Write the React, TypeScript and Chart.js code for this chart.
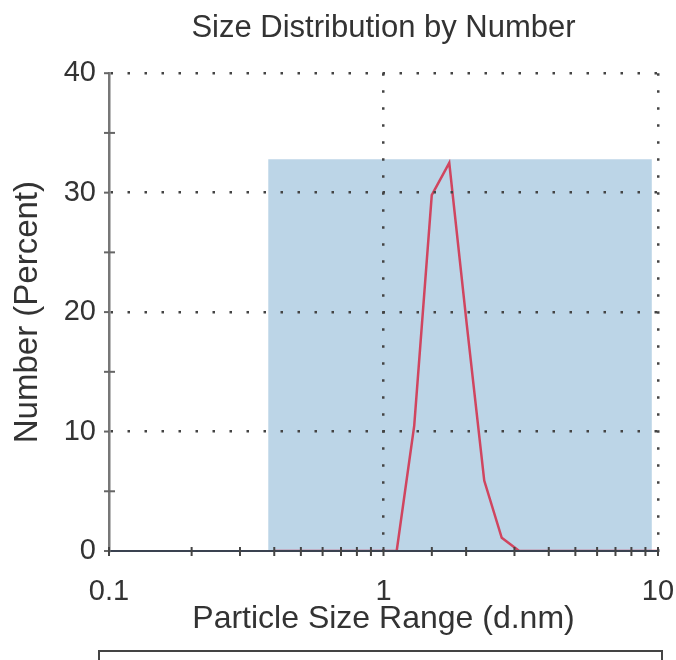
import React, { useEffect, useRef } from "react";
import { Chart, registerables } from "chart.js";

Chart.register(...registerables);

// Data
const chartTitle = "Size Distribution by Number";
const xTitle = "Particle Size Range (d.nm)";
const yTitle = "Number (Percent)";
const xLabelValues = [0.1, 1, 10];
const yLabelValues = [0, 10, 20, 30, 40];

// highlighted size range band
const bandSizes = [0.38, 9.5];
const bandLevel = [32.8, 32.8];

// distribution (d.nm, %)
const sizes = [0.4, 0.4632, 0.5365, 0.6213, 0.7195, 0.8332, 0.9649, 1.117, 1.294, 1.499, 1.736, 2.01, 2.328, 2.696, 3.122, 3.615, 4.187, 4.849, 5.615, 6.503, 7.531, 8.721, 10.1];
const numberPct = [0, 0, 0, 0, 0, 0, 0, 0, 10.5, 29.8, 32.5, 19, 5.9, 1.1, 0, 0, 0, 0, 0, 0, 0, 0, 0];

const FONT = "'Liberation Sans', Arial, Helvetica, sans-serif";
const TEXT = "#333333";
const DOT = "#444444";

const tickMarks = {
  id: "tickMarks",
  afterDraw(chart: any) {
    const ctx = chart.ctx;
    const xs = chart.scales.x;
    const ys = chart.scales.y;
    const area = chart.chartArea;
    ctx.save();
    ctx.lineWidth = 2;
    ctx.strokeStyle = "#666";
    ys.ticks.forEach((t: any) => {
      const y = ys.getPixelForValue(t.value);
      ctx.beginPath();
      if (t.value % 10 === 0) {
        ctx.moveTo(area.left - 5, y);
        ctx.lineTo(area.left, y);
      } else {
        ctx.moveTo(area.left - 5, y);
        ctx.lineTo(area.left + 6, y);
      }
      ctx.stroke();
    });
    ctx.strokeStyle = "#444";
    xs.ticks.forEach((t: any) => {
      const x = xs.getPixelForValue(t.value);
      ctx.beginPath();
      ctx.moveTo(x, area.bottom - 4);
      ctx.lineTo(x, area.bottom + 5);
      ctx.stroke();
    });
    // frame of the table below the chart
    ctx.lineWidth = 2;
    ctx.strokeStyle = "#444";
    ctx.strokeRect(99, 651, 563, 40);
    ctx.restore();
  },
};

export default function App() {
  const ref = useRef<HTMLCanvasElement>(null);
  useEffect(() => {
    if (!ref.current) return;
    const chart = new Chart(ref.current, {
      type: "line",
      data: {
        datasets: [
          {
            data: bandSizes.map((x, i) => ({ x, y: bandLevel[i] })),
            borderWidth: 0,
            borderColor: "rgba(0,0,0,0)",
            backgroundColor: "#bcd5e7",
            fill: "origin",
            pointRadius: 0,
            order: 2,
          },
          {
            data: sizes.map((x, i) => ({ x, y: numberPct[i] })),
            borderWidth: 2.5,
            borderColor: "#d0455f",
            backgroundColor: "#d0455f",
            fill: false,
            pointRadius: 0,
            tension: 0,
            order: 1,
          },
        ],
      },
      plugins: [tickMarks],
      options: {
        animation: false,
        responsive: false,
        devicePixelRatio: 1,
        layout: { padding: { left: 0, right: 0, top: 0, bottom: 0 } },
        plugins: {
          legend: { display: false },
          tooltip: { enabled: false },
          title: {
            display: true,
            fullSize: false,
            text: chartTitle,
            color: TEXT,
            font: { family: FONT, size: 31, weight: "normal" },
            padding: { top: 10, bottom: 26 },
          },
        },
        scales: {
          x: {
            type: "logarithmic",
            min: 0.1,
            max: 10,
            z: 1,
            afterFit: (s: any) => {
              s.height = 109;
              s.paddingRight = 18;
              s.paddingLeft = 0;
            },
            grid: {
              z: 1,
              drawTicks: false,
              lineWidth: 2.5,
              color: (c: any) =>
                c.tick && (c.tick.value === 1 || c.tick.value === 10) ? DOT : "rgba(0,0,0,0)",
            },
            border: { z: 1, display: true, color: "#3a4250", width: 2, dash: [2.5, 14.5] },
            ticks: {
              z: 1,
              autoSkip: false,
              maxRotation: 0,
              padding: 24,
              color: TEXT,
              font: { family: FONT, size: 29 },
              callback: (v: any) => {
                const n = Number(v);
                return xLabelValues.some((l) => Math.abs(l - n) < 1e-9) ? String(n) : "";
              },
            },
            title: {
              display: true,
              text: xTitle,
              color: TEXT,
              font: { family: FONT, size: 32 },
              padding: { top: 0, bottom: 22 },
            },
          },
          y: {
            min: 0,
            max: 40,
            z: 1,
            afterFit: (s: any) => {
              s.width = 109;
            },
            grid: {
              z: 1,
              drawTicks: false,
              lineWidth: 2.5,
              color: (c: any) =>
                c.tick && c.tick.value > 0 && c.tick.value % 10 === 0 ? DOT : "rgba(0,0,0,0)",
            },
            border: { z: 1, display: true, color: "#777", width: 2.5, dash: [2.5, 14.5] },
            ticks: {
              z: 1,
              stepSize: 5,
              padding: 13,
              color: TEXT,
              font: { family: FONT, size: 29 },
              callback: (v: any) => (yLabelValues.includes(Number(v)) ? String(v) : ""),
            },
            title: {
              display: true,
              text: yTitle,
              color: TEXT,
              font: { family: FONT, size: 33 },
              padding: { top: 8, bottom: 0 },
            },
          },
        },
      },
    });
    return () => chart.destroy();
  }, []);
  return (
    <div style={{ position: "absolute", left: 0, top: 0, width: 676, height: 660, background: "#fff" }}>
      <canvas ref={ref} width={676} height={660} style={{ display: "block" }} />
    </div>
  );
}
